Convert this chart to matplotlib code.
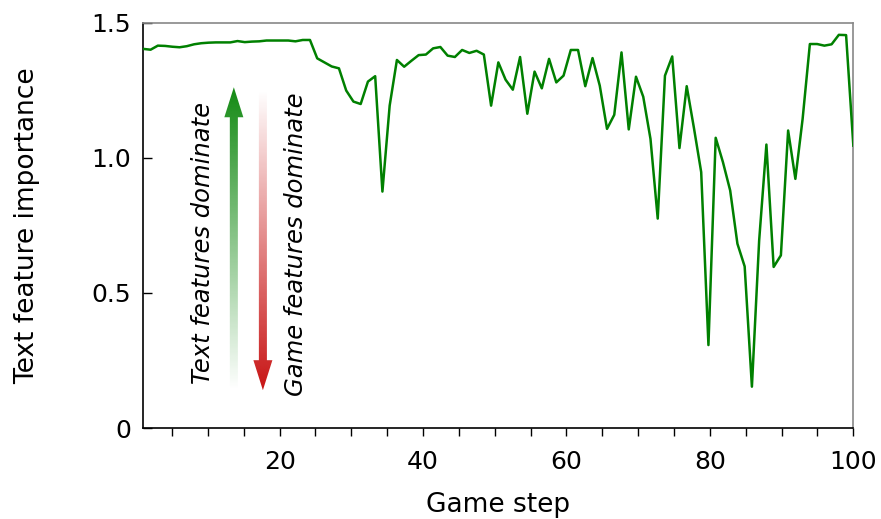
import numpy as np
import matplotlib
matplotlib.use("Agg")
import matplotlib.pyplot as plt
from matplotlib.patches import FancyArrow
from matplotlib.ticker import MultipleLocator, FixedLocator, FixedFormatter

# ---- data ----
steps = np.linspace(1, 100, 99)
importance = [
    1.403, 1.400, 1.415, 1.414, 1.411, 1.409, 1.413, 1.420, 1.424, 1.426,
    1.427, 1.427, 1.427, 1.432, 1.428, 1.430, 1.431, 1.434, 1.434, 1.434,
    1.434, 1.431, 1.436, 1.436, 1.368, 1.353, 1.338, 1.331, 1.249, 1.208,
    1.199, 1.282, 1.302, 0.875, 1.193, 1.362, 1.337, 1.359, 1.380, 1.382,
    1.405, 1.410, 1.378, 1.373, 1.399, 1.388, 1.396, 1.382, 1.193, 1.353,
    1.289, 1.252, 1.373, 1.163, 1.319, 1.257, 1.366, 1.279, 1.304, 1.399,
    1.399, 1.265, 1.369, 1.267, 1.107, 1.159, 1.390, 1.105, 1.300, 1.226,
    1.070, 0.775, 1.304, 1.375, 1.036, 1.265, 1.110, 0.947, 0.307, 1.074,
    0.984, 0.879, 0.682, 0.598, 0.153, 0.694, 1.049, 0.596, 0.639, 1.101,
    0.922, 1.144, 1.421, 1.421, 1.415, 1.420, 1.455, 1.454, 1.045,
]
xtick_values = [20, 40, 60, 80, 100]
ytick_values = [0, 0.5, 1.0, 1.5]
ytick_labels = ["0", "0.5", "1.0", "1.5"]
x_label = "Game step"
y_label = "Text feature importance"
text_up = "Text features dominate"
text_down = "Game features dominate"

# ---- figure ----
fig = plt.figure(figsize=(8.81, 5.19), dpi=100)
ax = fig.add_axes([0.1627, 0.1753, 0.9686 - 0.1627, 0.9563 - 0.1753])

ax.plot(steps, importance, color="#008000", lw=1.8, zorder=3)

ax.set_xlim(1, 100)
ax.set_ylim(0, 1.5)

ax.xaxis.set_major_locator(FixedLocator(xtick_values))
ax.xaxis.set_minor_locator(MultipleLocator(5))
ax.yaxis.set_major_locator(FixedLocator(ytick_values))
ax.yaxis.set_major_formatter(FixedFormatter(ytick_labels))

ax.tick_params(axis="x", which="both", direction="out", length=6, width=1.0,
               labelsize=18, pad=10, top=False)
ax.tick_params(axis="y", which="both", direction="in", length=6.5, width=1.0,
               labelsize=18, pad=9, right=False)

for side in ["left", "bottom"]:
    ax.spines[side].set_color("black")
    ax.spines[side].set_linewidth(1.2)
for side in ["top", "right"]:
    ax.spines[side].set_color("#888888")
    ax.spines[side].set_linewidth(1.2)

ax.set_xlabel(x_label, fontsize=19, labelpad=12.5)
ax.set_ylabel(y_label, fontsize=19, labelpad=37)


def gradient_arrow(x, y_start, y_end, color, fade_top):
    arrow = FancyArrow(x, y_start, 0, y_end - y_start, width=1.12,
                       head_width=2.65, head_length=0.111,
                       length_includes_head=True, fc="none", ec="none")
    ax.add_patch(arrow)
    rgb = np.array(matplotlib.colors.to_rgb(color))
    n = 256
    alpha = np.linspace(0.0, 1.0, n)  # row 0 = bottom (origin lower)
    if fade_top:
        alpha = alpha[::-1]
    img = np.zeros((n, 1, 4))
    img[:, 0, :3] = rgb
    img[:, 0, 3] = alpha
    lo, hi = min(y_start, y_end), max(y_start, y_end)
    im = ax.imshow(img, extent=[x - 2, x + 2, lo, hi], origin="lower",
                   aspect="auto", interpolation="bilinear", zorder=2)
    im.set_clip_path(arrow)


# green arrow pointing up: strong at top, fading at bottom
gradient_arrow(13.62, 0.14, 1.261, "#138a13", fade_top=False)
# red arrow pointing down: strong at bottom, fading at top
gradient_arrow(17.67, 1.25, 0.14, "#c81414", fade_top=True)

ax.text(9.3, 0.685, text_up, rotation=90, fontsize=17.5, style="italic",
        ha="center", va="center")
ax.text(22.3, 0.68, text_down, rotation=90, fontsize=17.5, style="italic",
        ha="center", va="center")

ax.set_xlim(1, 100)
ax.set_ylim(0, 1.5)

fig.savefig("out.png", dpi=100)
